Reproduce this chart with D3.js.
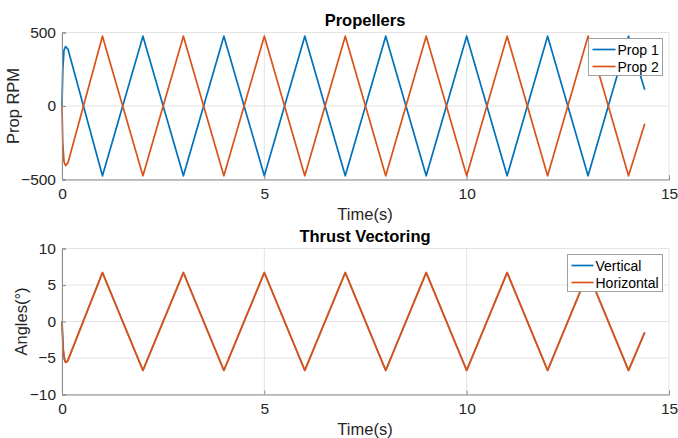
<!DOCTYPE html>
<html>
<head>
<meta charset="utf-8">
<style>
  body { margin: 0; background: #fff; }
  svg { display: block; font-family: "Liberation Sans", Arial, sans-serif; }
</style>
</head>
<body>
<svg width="678" height="438"></svg>
<script src="https://d3js.org/d3.v7.min.js"></script>
<script>
// values (turning points of the signals)
var propTime = [0, 0.02, 0.05, 0.09, 0.15, 1, 2, 3, 4, 5, 6, 7, 8, 9, 10, 11, 12, 13, 14, 14.4];
var prop1 = [0, 250, 380, 405, 385, -475, 475, -475, 475, -475, 475, -475, 475, -475, 475, -475, 475, -475, 475, 110];
var prop2 = [0, -250, -380, -405, -385, 475, -475, 475, -475, 475, -475, 475, -475, 475, -475, 475, -475, 475, -475, -120];

var angTime = [0, 0.03, 0.06, 0.09, 0.14, 1, 2, 3, 4, 5, 6, 7, 8, 9, 10, 11, 12, 13, 14, 14.4];
var vertical = [0, -3.8, -5.2, -5.6, -5.4, 6.7, -6.7, 6.7, -6.7, 6.7, -6.7, 6.7, -6.7, 6.7, -6.7, 6.7, -6.7, 6.7, -6.7, -1.5];
var horizontal = [0, -3.8, -5.2, -5.6, -5.4, 6.7, -6.7, 6.7, -6.7, 6.7, -6.7, 6.7, -6.7, 6.7, -6.7, 6.7, -6.7, 6.7, -6.7, -1.5];

var xTicks = [0, 5, 10, 15];
var propTicks = [-500, 0, 500];
var angTicks = [-10, -5, 0, 5, 10];

var blue = "#0072BD", orange = "#D95319";
var svg = d3.select("svg");

function panel(opt) {
  var x = d3.scaleLinear().domain([0, 15]).range([62, 669]);
  var y = d3.scaleLinear().domain(opt.yDomain).range([opt.bottom, opt.top]);
  var g = svg.append("g");

  // grid
  g.selectAll(".gx").data(xTicks).enter().append("line")
    .attr("x1", function(d) { return x(d); }).attr("x2", function(d) { return x(d); })
    .attr("y1", y.range()[0]).attr("y2", y.range()[1])
    .attr("stroke", "#e3e3e3").attr("stroke-width", 1);
  g.selectAll(".gy").data(opt.yTicks).enter().append("line")
    .attr("x1", x.range()[0]).attr("x2", x.range()[1])
    .attr("y1", function(d) { return y(d); }).attr("y2", function(d) { return y(d); })
    .attr("stroke", "#e3e3e3").attr("stroke-width", 1);

  // lines
  var line = d3.line()
    .x(function(d) { return x(d[0]); })
    .y(function(d) { return y(d[1]); });
  opt.series.forEach(function(s, i) {
    g.append("path")
      .attr("d", line(d3.zip(opt.time, s.values)))
      .attr("fill", "none")
      .attr("stroke", s.color)
      .attr("stroke-width", s.width || 1.7)
      .attr("stroke-linejoin", "round");
  });

  // axes
  var xa = g.append("g").attr("transform", "translate(0," + opt.bottom + ")")
    .call(d3.axisBottom(x).tickValues(xTicks).tickSize(-4).tickPadding(8).tickFormat(d3.format("d")));
  var ya = g.append("g").attr("transform", "translate(62,0)")
    .call(d3.axisLeft(y).tickValues(opt.yTicks).tickSize(-4).tickPadding(6).tickFormat(d3.format("d")));
  [xa, ya].forEach(function(a) {
    a.select(".domain").attr("stroke", "#8c8c8c");
    a.selectAll(".tick line").attr("stroke", "#8c8c8c");
    a.selectAll("text").attr("font-size", 15.5).attr("fill", "#262626")
      .attr("font-family", "Liberation Sans, Arial, sans-serif");
  });

  // title and labels
  svg.append("text").attr("x", 365).attr("y", opt.top - 7)
    .attr("text-anchor", "middle").attr("font-size", 16.5).attr("font-weight", "bold")
    .text(opt.title);
  svg.append("text").attr("x", 365).attr("y", opt.bottom + 40)
    .attr("text-anchor", "middle").attr("font-size", 16.5).attr("fill", "#262626")
    .text("Time(s)");
  svg.append("text")
    .attr("transform", "translate(" + opt.ylabelX + "," + ((opt.top + opt.bottom) / 2) + ") rotate(-90)")
    .attr("text-anchor", "middle").attr("font-size", 16.5).attr("fill", "#262626")
    .text(opt.ylabel);

  // legend
  var L = opt.legend;
  var lg = svg.append("g").attr("transform", "translate(" + L.x + "," + L.y + ")");
  lg.append("rect").attr("width", L.w).attr("height", 37)
    .attr("fill", "#fff").attr("stroke", "#a0a0a0").attr("stroke-width", 1);
  opt.series.forEach(function(s, i) {
    var yy = 11 + i * 17;
    lg.append("line").attr("x1", 4).attr("x2", L.lineEnd).attr("y1", yy).attr("y2", yy)
      .attr("stroke", s.color).attr("stroke-width", 1.7);
    lg.append("text").attr("x", L.lineEnd + 2).attr("y", yy + 5)
      .attr("font-size", 14).attr("fill", "#000").text(s.name);
  });
}

panel({
  title: "Propellers", ylabel: "Prop RPM", ylabelX: 19,
  top: 32.5, bottom: 179.5, yDomain: [-500, 500], yTicks: propTicks,
  time: propTime,
  series: [{ name: "Prop 1", values: prop1, color: blue }, { name: "Prop 2", values: prop2, color: orange }],
  legend: { x: 588.5, y: 38.5, w: 74, lineEnd: 27 }
});

panel({
  title: "Thrust Vectoring", ylabel: "Angles(°)", ylabelX: 27,
  top: 248.5, bottom: 394.5, yDomain: [-10, 10], yTicks: angTicks,
  time: angTime,
  series: [{ name: "Vertical", values: vertical, color: blue, width: 1.3 },
           { name: "Horizontal", values: horizontal, color: orange, width: 1.9 }],
  legend: { x: 567.5, y: 254.5, w: 95, lineEnd: 26 }
});
</script>
</body>
</html>
